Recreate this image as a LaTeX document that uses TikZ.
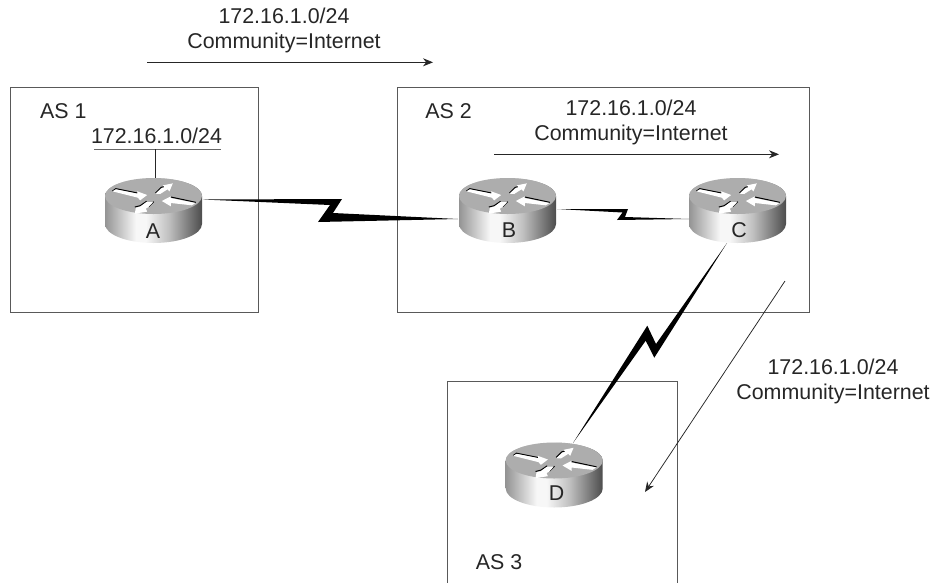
\documentclass[tikz,border=0pt]{standalone}
\usepackage{fontspec}
\setmainfont{Liberation Sans}
\usetikzlibrary{arrows.meta}
\definecolor{rb1}{gray}{0.58}
\definecolor{rb2}{gray}{0.75}
\definecolor{rb3}{gray}{0.97}
\definecolor{rb4}{gray}{0.3}
\definecolor{boxline}{gray}{0.35}
\definecolor{rtop}{gray}{0.68}
\pgfdeclarehorizontalshading{routerbody}{100bp}{
 color(0bp)=(rb1); color(25bp)=(rb1); color(41bp)=(rb3); color(46bp)=(rb3); color(58bp)=(rb2); color(75bp)=(rb4); color(100bp)=(rb4)}
\tikzset{
 x=1pt,y=-1pt,
 asbox/.style={draw=boxline,line width=0.9pt},
 lbl/.style={font=\fontsize{21.4}{25}\selectfont,text=black!85,inner sep=0,align=center},
 flow/.style={draw=black!85,line width=0.75pt,-{Stealth[length=10pt,width=8pt]}},
 link/.style={fill=black,draw=none},
 rarrow/.style={fill=white,draw=none},
 redge/.style={draw=black,line width=1pt,line cap=butt},
 pics/router/.style={code={
  \shade[shading=routerbody,shading angle=0]
     (-48.5,0) -- (-48.5,28) arc[x radius=48.5,y radius=19,start angle=180,end angle=0] -- (48.5,0) arc[x radius=48.5,y radius=18,start angle=0,end angle=-180] -- cycle;
  \fill[rtop] (0,0) ellipse[x radius=48.5,y radius=18];
  \begin{scope}[shift={(-73.33,-35)},x=0.3333pt,y=-0.3333pt]
   \draw[redge] (97,90) -- (107,83) -- (172,96);
   \fill[rarrow] (97,91) -- (107,85) -- (172,98) -- (171,91) -- (201,102) -- (180,118) -- (173,110) -- cycle;
   \draw[redge] (226,96) -- (243,79) -- (252,77);
   \fill[rarrow] (226,98) -- (245,81) -- (253,79) -- (248,73) -- (278,67) -- (268,91) -- (262,85) -- (240,99) -- cycle;
   \draw[redge] (221,122) -- (206,137);
   \draw[redge] (164,138) -- (180,134) -- (199,121);
   \fill[rarrow] (219,123) -- (205,138) -- (197,143) -- (201,152) -- (164,158) -- (167,140) -- (180,137) -- (199,123) -- cycle;
   \draw[redge] (272,108) -- (347,124);
   \fill[rarrow] (245,120) -- (272,106) -- (271,111) -- (346,126) -- (335,133) -- (272,126) -- (272,136) -- cycle;
  \end{scope}
 }}
}
\begin{document}
\begin{tikzpicture}
\useasboundingbox (0,0) rectangle (932,582);
\coordinate (a1) at (10,87.5); \coordinate (a2) at (258,312);
\draw[asbox] (a1) rectangle (a2);
\coordinate (b1) at (397,87.5); \coordinate (b2) at (809,312);
\draw[asbox] (b1) rectangle (b2);
\coordinate (c1) at (447.3,583); \coordinate (c2) at (447.3,381.7); \coordinate (c3) at (677.3,381.7); \coordinate (c4) at (677.3,583);
\draw[asbox] (c1) -- (c2) -- (c3) -- (c4);

% serial links
\fill[link] (203,199.5) -- (342,199) -- (333,213) -- (458,219) -- (318,222) -- (330,205) -- cycle;
\fill[link] (557,209) -- (628,209) -- (625,217) -- (689,219) -- (617,220) -- (622.5,212.5) -- cycle;
\fill[link] (573,443) -- (647.3,325.7) -- (656,344) -- (727,243) -- (654.3,357.7) -- (645.7,340.7) -- cycle;

% routers
\pic at (153.5,196) {router};
\pic at (507.5,196) {router};
\pic at (737.5,196) {router};
\pic at (554.2,460.5) {router};
\node[lbl] (ra) at (153,230.7) {A};
\node[lbl] (rb) at (509,230.5) {B};
\node[lbl] (rc) at (739,230.5) {C};
\node[lbl] (rd) at (556.5,493.5) {D};

% LAN on A
\coordinate (lan1) at (94,149.3); \coordinate (lan2) at (221,149.3);
\coordinate (lanr) at (155.3,149.3); \coordinate (lanb) at (155.3,178);
\draw[draw=black!60,line width=0.9pt] (lan1) -- (lan2);
\draw[draw=black!85,line width=0.75pt] (lanr) -- (lanb);

% flow arrows
\coordinate (f1s) at (147,62.3); \coordinate (f1e) at (433,62.3);
\coordinate (f2s) at (494,154.3); \coordinate (f2e) at (779,154.3);
\coordinate (f3s) at (785,281); \coordinate (f3e) at (645,492);
\draw[flow] (f1s) -- (f1e);
\draw[flow] (f2s) -- (f2e);
\draw[flow] (f3s) -- (f3e);

% labels
\node[lbl] (t1) at (284,30.5) {172.16.1.0/24\\Community=Internet};
\node[lbl] (t2) at (631,122.5) {172.16.1.0/24\\Community=Internet};
\node[lbl] (t3) at (833,381.7) {172.16.1.0/24\\Community=Internet};
\node[lbl] (t4) at (156.5,135.5) {172.16.1.0/24};
\node[lbl] (as1) at (63.3,110.7) {AS 1};
\node[lbl] (as2) at (448.5,111) {AS 2};
\node[lbl] (as3) at (499,561.7) {AS 3};
\end{tikzpicture}
\end{document}
